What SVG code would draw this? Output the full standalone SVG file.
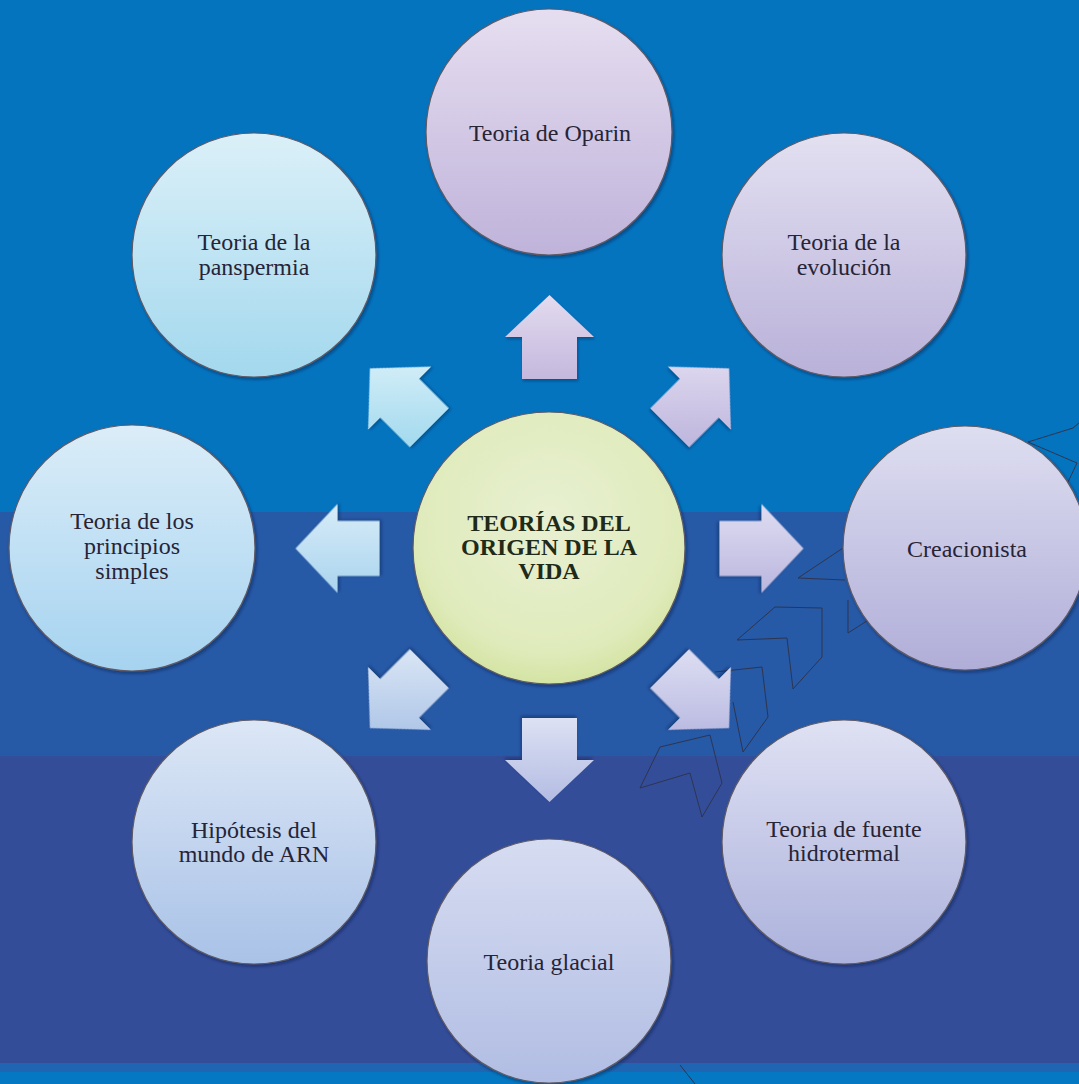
<svg xmlns="http://www.w3.org/2000/svg" width="1079" height="1084" viewBox="0 0 1079 1084">
<defs>
<style>
.node{stroke:#5e5a66;stroke-width:1.2;filter:url(#sh)}
.t{font-family:'Liberation Serif','DejaVu Serif',serif;font-size:24px;fill:#262436;text-anchor:middle}
.tb{font-family:'Liberation Serif','DejaVu Serif',serif;font-size:24px;font-weight:bold;fill:#1f2a18;text-anchor:middle}
.arr{filter:url(#sh2)}
.deco{fill:none;stroke:#2e3550;stroke-width:1;stroke-linejoin:miter}
</style>
<filter id="sh" x="-10%" y="-10%" width="125%" height="125%">
<feDropShadow dx="1.5" dy="2" stdDeviation="1.5" flood-color="#0a1440" flood-opacity="0.45"/>
</filter>
<filter id="sh2" x="-20%" y="-20%" width="140%" height="140%">
<feDropShadow dx="1" dy="2" stdDeviation="1.5" flood-color="#0a1440" flood-opacity="0.4"/>
</filter>
<linearGradient id="gLav" x1="0" y1="0" x2="0" y2="1"><stop offset="0" stop-color="#e6def0"/><stop offset="1" stop-color="#bfb3da"/></linearGradient>
<linearGradient id="gLav2" x1="0" y1="0" x2="0" y2="1"><stop offset="0" stop-color="#e3e0f1"/><stop offset="1" stop-color="#b9b1d9"/></linearGradient>
<linearGradient id="gPer" x1="0" y1="0" x2="0" y2="1"><stop offset="0" stop-color="#dedef1"/><stop offset="1" stop-color="#b0aed8"/></linearGradient>
<linearGradient id="gPer2" x1="0" y1="0" x2="0" y2="1"><stop offset="0" stop-color="#dfe1f3"/><stop offset="1" stop-color="#acb2dc"/></linearGradient>
<linearGradient id="gGla" x1="0" y1="0" x2="0" y2="1"><stop offset="0" stop-color="#d6dcf1"/><stop offset="1" stop-color="#b1bde3"/></linearGradient>
<linearGradient id="gArn" x1="0" y1="0" x2="0" y2="1"><stop offset="0" stop-color="#dce7f6"/><stop offset="1" stop-color="#a9c2e7"/></linearGradient>
<linearGradient id="gPri" x1="0" y1="0" x2="0" y2="1"><stop offset="0" stop-color="#dbedf8"/><stop offset="1" stop-color="#a6d3f0"/></linearGradient>
<linearGradient id="gPan" x1="0" y1="0" x2="0" y2="1"><stop offset="0" stop-color="#dbf0f8"/><stop offset="1" stop-color="#a3d8ee"/></linearGradient>
<radialGradient id="gCen" cx="0.5" cy="0.4" r="0.6"><stop offset="0" stop-color="#e8f0d2"/><stop offset="0.8" stop-color="#e0ebbc"/><stop offset="1" stop-color="#d4e4a3"/></radialGradient>
<linearGradient id="a0" gradientUnits="userSpaceOnUse" x1="0" y1="-42" x2="0" y2="42"><stop offset="0" stop-color="#e3dbef"/><stop offset="1" stop-color="#c4b8dd"/></linearGradient>
<linearGradient id="a45" gradientUnits="userSpaceOnUse" x1="-29.7" y1="-29.7" x2="29.7" y2="29.7"><stop offset="0" stop-color="#e0daf0"/><stop offset="1" stop-color="#c0b8de"/></linearGradient>
<linearGradient id="a90" gradientUnits="userSpaceOnUse" x1="-42" y1="0" x2="42" y2="0"><stop offset="0" stop-color="#dedcf1"/><stop offset="1" stop-color="#bbb7df"/></linearGradient>
<linearGradient id="a135" gradientUnits="userSpaceOnUse" x1="-29.7" y1="29.7" x2="29.7" y2="-29.7"><stop offset="0" stop-color="#dadbf1"/><stop offset="1" stop-color="#b7b7e0"/></linearGradient>
<linearGradient id="a180" gradientUnits="userSpaceOnUse" x1="0" y1="42" x2="0" y2="-42"><stop offset="0" stop-color="#dde1f3"/><stop offset="1" stop-color="#b3bce3"/></linearGradient>
<linearGradient id="a225" gradientUnits="userSpaceOnUse" x1="29.7" y1="29.7" x2="-29.7" y2="-29.7"><stop offset="0" stop-color="#d6e3f4"/><stop offset="1" stop-color="#abc3e6"/></linearGradient>
<linearGradient id="a270" gradientUnits="userSpaceOnUse" x1="42" y1="0" x2="-42" y2="0"><stop offset="0" stop-color="#d6ebf7"/><stop offset="1" stop-color="#abd5ef"/></linearGradient>
<linearGradient id="a315" gradientUnits="userSpaceOnUse" x1="29.7" y1="-29.7" x2="-29.7" y2="29.7"><stop offset="0" stop-color="#d6eff8"/><stop offset="1" stop-color="#a6dbef"/></linearGradient>
<path id="blk" d="M0,-42 L44.5,0 L27.5,0 L27.5,42 L-27.5,42 L-27.5,0 L-44.5,0 Z"/>
</defs>

<g id="background">
<rect x="0" y="0" width="1079" height="512" fill="#0474bf"/>
<rect x="0" y="512" width="1079" height="244" fill="#2659a6"/>
<rect x="0" y="756" width="1079" height="308" fill="#334d99"/>
<rect x="0" y="1063" width="1079" height="9" fill="#1f65b1"/>
<rect x="0" y="1072" width="1079" height="12" fill="#0578c3"/>
</g>

<g id="decor">
<polyline class="deco" points="1079,423 1073,428 1028,442 1077,463 1068,482"/>
<polyline class="deco" points="843,548 798,578 845,580"/>
<polyline class="deco" points="848,600 848,633 873,617"/>
<polygon class="deco" points="737,640 775,607 822,608 822,657 793,689 787,638"/>
<polyline class="deco" points="715,672 762,667 768,717 743,752 733,702"/>
<polyline class="deco" points="640,788 660,747 710,735 722,783 702,817 690,773 640,788"/>
<line class="deco" x1="680" y1="1065" x2="695" y2="1084"/>
</g>

<g id="connectors">
<use href="#blk" class="arr" fill="url(#a0)" transform="translate(549.5,337)"/>
<use href="#blk" class="arr" fill="url(#a45)" transform="translate(699.4,398.1) rotate(45)"/>
<use href="#blk" class="arr" fill="url(#a90)" transform="translate(761.5,548.5) rotate(90)"/>
<use href="#blk" class="arr" fill="url(#a135)" transform="translate(699.4,698.4) rotate(135)"/>
<use href="#blk" class="arr" fill="url(#a180)" transform="translate(549.5,760) rotate(180)"/>
<use href="#blk" class="arr" fill="url(#a225)" transform="translate(399.6,698.4) rotate(225)"/>
<use href="#blk" class="arr" fill="url(#a270)" transform="translate(337.5,548.5) rotate(270)"/>
<use href="#blk" class="arr" fill="url(#a315)" transform="translate(399.6,398.1) rotate(315)"/>
</g>

<g id="center">
<circle class="node" cx="549" cy="548" r="136" fill="url(#gCen)"/>
<text class="tb" x="549" y="531">TEORÍAS DEL</text>
<text class="tb" x="549" y="555">ORIGEN DE LA</text>
<text class="tb" x="549" y="579">VIDA</text>
</g>

<g id="oparin">
<circle class="node" cx="549" cy="132" r="123" fill="url(#gLav)"/>
<text class="t" x="550" y="141">Teoria de Oparin</text>
</g>

<g id="evolucion">
<circle class="node" cx="844" cy="255" r="122" fill="url(#gLav2)"/>
<text class="t" x="844" y="250">Teoria de la</text>
<text class="t" x="844" y="275">evolución</text>
</g>

<g id="creacionista">
<circle class="node" cx="965" cy="548" r="122" fill="url(#gPer)"/>
<text class="t" x="967" y="557">Creacionista</text>
</g>

<g id="hidrotermal">
<circle class="node" cx="844" cy="842" r="122" fill="url(#gPer2)"/>
<text class="t" x="844" y="837">Teoria de fuente</text>
<text class="t" x="844" y="861">hidrotermal</text>
</g>

<g id="glacial">
<circle class="node" cx="549" cy="961" r="122" fill="url(#gGla)"/>
<text class="t" x="549" y="970">Teoria glacial</text>
</g>

<g id="arn">
<circle class="node" cx="254" cy="842" r="122" fill="url(#gArn)"/>
<text class="t" x="254" y="838">Hipótesis del</text>
<text class="t" x="254" y="862">mundo de ARN</text>
</g>

<g id="principios">
<circle class="node" cx="132" cy="548" r="123" fill="url(#gPri)"/>
<text class="t" x="132" y="529">Teoria de los</text>
<text class="t" x="132" y="554">principios</text>
<text class="t" x="132" y="579">simples</text>
</g>

<g id="panspermia">
<circle class="node" cx="254" cy="255" r="122" fill="url(#gPan)"/>
<text class="t" x="254" y="250">Teoria de la</text>
<text class="t" x="254" y="275">panspermia</text>
</g>
</svg>
